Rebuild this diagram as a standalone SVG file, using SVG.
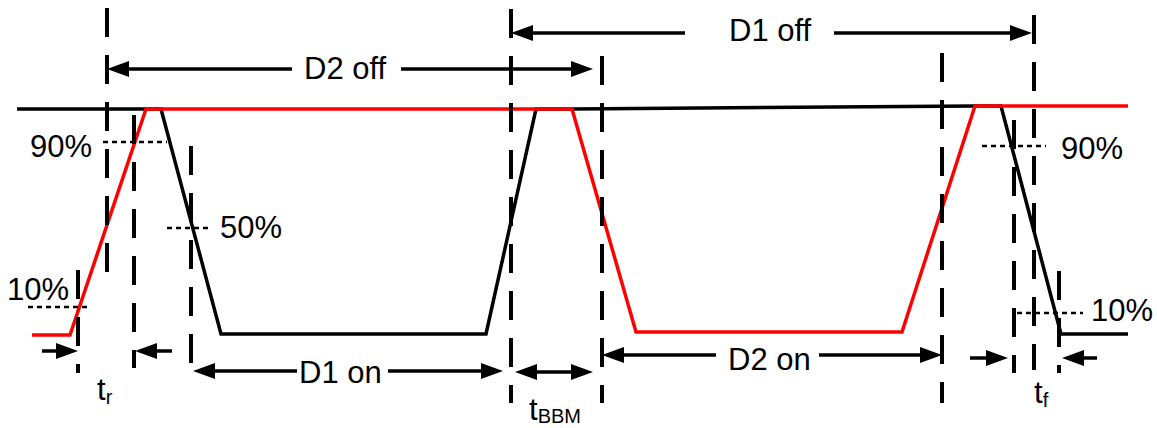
<svg xmlns="http://www.w3.org/2000/svg" width="1157" height="428" viewBox="0 0 1157 428">
<style>
.wave{fill:none;stroke-width:3.5;stroke-linejoin:miter}
.blk{stroke:#000}
.red{stroke:#ff0000}
.dash{stroke:#000;stroke-width:4;stroke-dasharray:29 18;fill:none}
.dot{stroke:#000;stroke-width:2.5;stroke-dasharray:5 4;fill:none}
.dim{stroke:#000;stroke-width:3.5;fill:none}
.lbl{font-family:"Liberation Sans",Arial,sans-serif;font-size:31px;fill:#000}
.sub{font-size:20px}
</style>
<defs>
<marker id="arr" viewBox="0 0 22 16" markerWidth="22" markerHeight="16" refX="12" refY="8" markerUnits="userSpaceOnUse" orient="auto-start-reverse">
<path d="M0,0 L22,8 L0,16 Z" fill="#000"/>
</marker>
</defs>
<g id="waveforms">
<polyline id="wave-black" class="wave blk" points="17,109 161,109 221,334 486,334 536,109 572,109 975,106 1001,106 1061,334 1128,334"/>
<polyline id="wave-red" class="wave red" points="32,335 70,335 146,109 572,109 636,332 902,332 975,106 1128,106"/>
</g>
<g id="guides">
<line class="dash" x1="107" y1="8" x2="107" y2="282"/>
<line class="dash" x1="134" y1="115" x2="134" y2="368"/>
<line class="dash" x1="191" y1="146" x2="191" y2="368"/>
<line class="dash" x1="78" y1="270" x2="78" y2="373"/>
<line class="dash" x1="511" y1="9" x2="511" y2="403"/>
<line class="dash" x1="602" y1="56" x2="602" y2="403"/>
<line class="dash" x1="942" y1="53" x2="942" y2="403"/>
<line class="dash" x1="1014" y1="120" x2="1014" y2="373"/>
<line class="dash" x1="1034" y1="15" x2="1034" y2="370"/>
<line class="dash" x1="1059" y1="271" x2="1059" y2="373"/>
</g>
<g id="levels">
<line class="dot" x1="103" y1="142" x2="167" y2="142"/>
<line class="dot" x1="167" y1="228" x2="211" y2="228"/>
<line class="dot" x1="28" y1="307" x2="91" y2="307"/>
<line class="dot" x1="982" y1="146" x2="1046" y2="146"/>
<line class="dot" x1="1017" y1="313" x2="1083" y2="313"/>
</g>
<g id="connectors">
<line class="dim" x1="292" y1="69" x2="117" y2="69" marker-end="url(#arr)"/>
<line class="dim" x1="401" y1="69" x2="583" y2="69" marker-end="url(#arr)"/>
<line class="dim" x1="685" y1="33" x2="521" y2="33" marker-end="url(#arr)"/>
<line class="dim" x1="834" y1="33" x2="1022" y2="33" marker-end="url(#arr)"/>
<line class="dim" x1="297" y1="371" x2="203" y2="371" marker-end="url(#arr)"/>
<line class="dim" x1="388" y1="371" x2="493" y2="371" marker-end="url(#arr)"/>
<line class="dim" x1="716" y1="355" x2="612" y2="355" marker-end="url(#arr)"/>
<line class="dim" x1="819" y1="355" x2="932" y2="355" marker-end="url(#arr)"/>
<line class="dim" x1="525" y1="372" x2="583" y2="372" marker-start="url(#arr)" marker-end="url(#arr)"/>
<line class="dim" x1="42" y1="351" x2="68" y2="351" marker-end="url(#arr)"/>
<line class="dim" x1="172" y1="351" x2="145" y2="351" marker-end="url(#arr)"/>
<line class="dim" x1="970" y1="358" x2="998" y2="358" marker-end="url(#arr)"/>
<line class="dim" x1="1097" y1="358" x2="1072" y2="358" marker-end="url(#arr)"/>
</g>
<g id="labels">
<text class="lbl" x="30" y="157">90%</text>
<text class="lbl" x="220" y="238">50%</text>
<text class="lbl" x="7" y="300">10%</text>
<text class="lbl" x="1061" y="159">90%</text>
<text class="lbl" x="1091" y="321">10%</text>
<text class="lbl" x="304" y="79">D2 off</text>
<text class="lbl" x="729" y="41">D1 off</text>
<text class="lbl" x="299" y="383">D1 on</text>
<text class="lbl" x="728" y="370">D2 on</text>
<text class="lbl" x="97" y="400">t<tspan class="sub" dy="4">r</tspan></text>
<text class="lbl" x="529" y="420">t<tspan class="sub" dy="3">BBM</tspan></text>
<text class="lbl" x="1034" y="403">t<tspan class="sub" dy="4">f</tspan></text>
</g>
</svg>
